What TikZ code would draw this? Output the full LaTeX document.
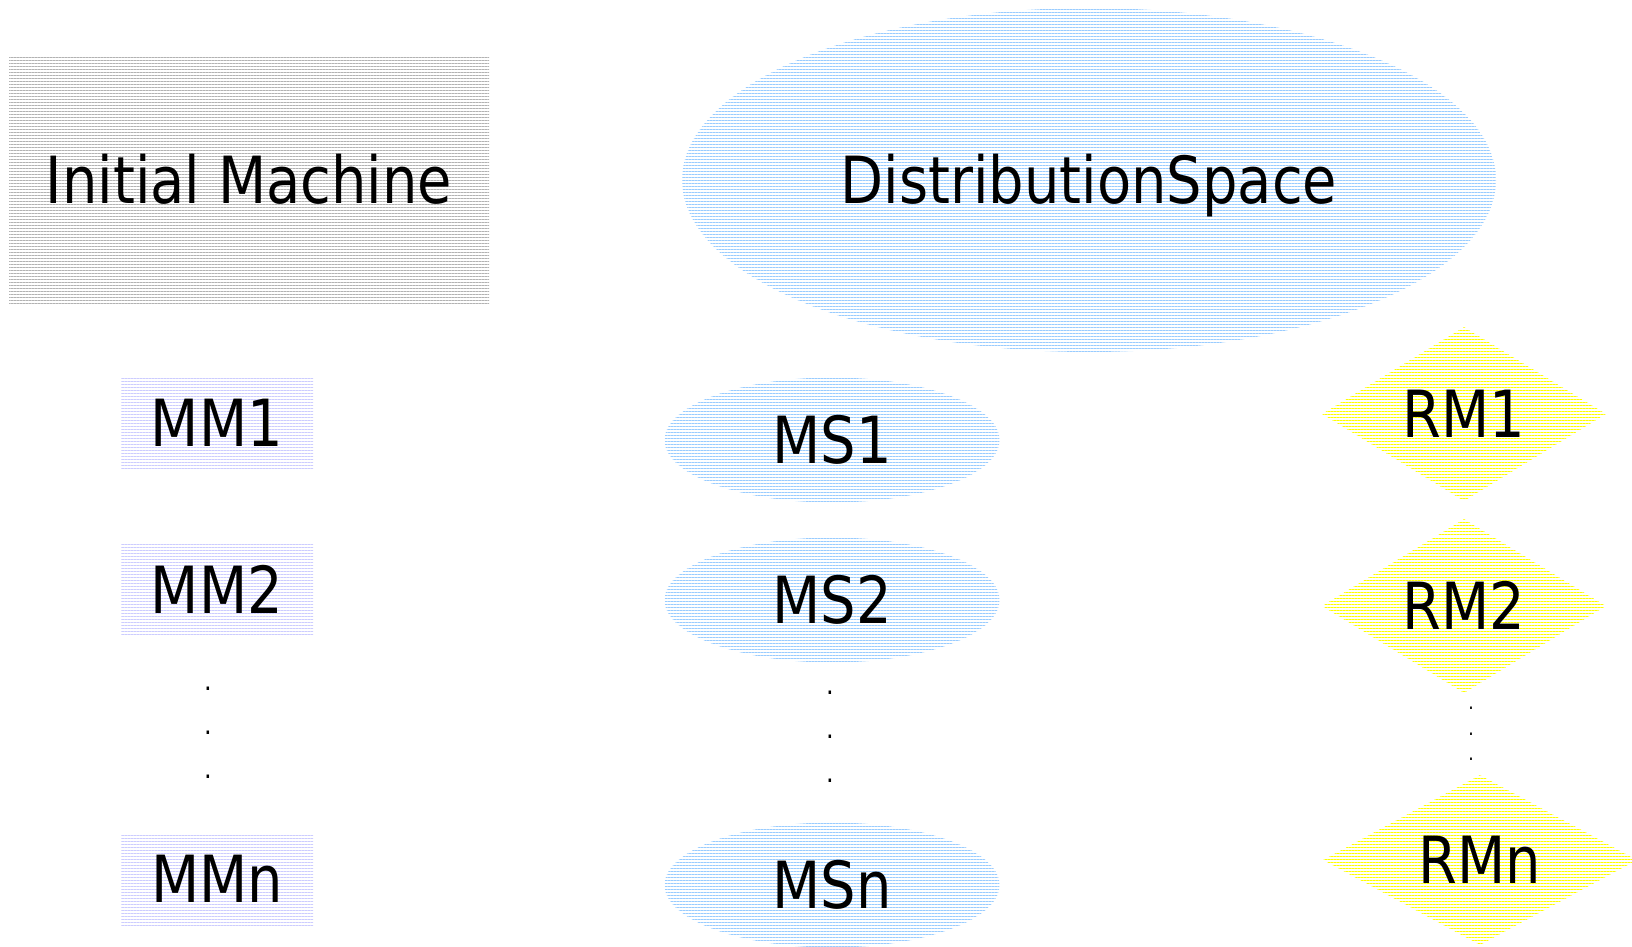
\documentclass[tikz,border=0pt]{standalone}
\usepackage{fontspec}
\setmainfont[FakeStretch=0.86]{DejaVu Sans}
\usetikzlibrary{shapes.geometric,patterns.meta}
\definecolor{hatchgray}{RGB}{178,178,178}
\definecolor{hatchblue}{RGB}{153,204,255}
\definecolor{hatchlav}{RGB}{204,204,255}
\definecolor{hatchyel}{RGB}{255,255,0}
\tikzset{
  hatch/.style={pattern={Lines[angle=0,distance=3pt,line width=1pt]},pattern color=#1},
  bigtext/.style={font=\fontsize{65}{70}\selectfont,text height=47.4pt,text depth=0pt},
  machine/.style={rectangle,hatch=hatchlav,inner sep=0pt,minimum width=192pt,minimum height=92pt,bigtext},
  space/.style={ellipse,hatch=hatchblue,inner sep=0pt,minimum width=335pt,minimum height=125pt,bigtext},
  resource/.style={diamond,hatch=hatchyel,inner sep=0pt,minimum width=284pt,minimum height=174pt,
    label={[bigtext,inner sep=0pt]center:#1}},
  dots/.style={align=center,inner sep=0pt,font=\fontsize{28}{44}\selectfont},
  smalldots/.style={align=center,inner sep=0pt,font=\fontsize{20}{25.5}\selectfont}
}
\begin{document}
\begin{tikzpicture}[x=1pt,y=-1pt]
\useasboundingbox (0,0) rectangle (1632,946);

% top row
\node[rectangle,hatch=hatchgray,inner sep=0pt,minimum width=480pt,minimum height=246pt,bigtext] (init) at (249,180) {Initial Machine};
\node[ellipse,hatch=hatchblue,inner sep=0pt,minimum width=814pt,minimum height=344pt,bigtext] (dist) at (1089,180) {DistributionSpace};

% machines column
\node[machine] (mm1) at (217,423) {MM1};
\node[machine] (mm2) at (217,590) {MM2};
\node[dots] (mmdots) at (208,733) {.\\.\\.};
\node[machine] (mmn) at (217,879) {MMn};

% spaces column
\node[space] (ms1) at (832,440) {MS1};
\node[space] (ms2) at (832,600) {MS2};
\node[dots] (msdots) at (830,737) {.\\.\\.};
\node[space] (msn) at (832,885) {MSn};

% resources column
\node[resource=RM1] (rm1) at (1464,414) {};
\node[resource=RM2] (rm2) at (1464,606) {};
\node[smalldots] (rmdots) at (1471,734) {.\\.\\.};
\node[resource=RMn,minimum width=314pt,minimum height=170pt] (rmn) at (1480,860) {};
\end{tikzpicture}
\end{document}
